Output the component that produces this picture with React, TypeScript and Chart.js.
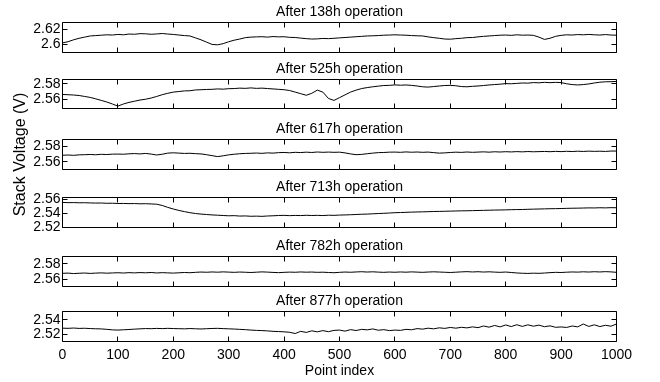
import React, { useEffect, useRef } from 'react';
import { Chart, registerables } from 'chart.js';
Chart.register(...registerables);

// x categories: point index (every 10th point)
const pointIndex: number[] = Array.from({ length: 101 }, (_, i) => i * 10);
const xTicks: number[] = [0, 100, 200, 300, 400, 500, 600, 700, 800, 900, 1000];

const titles: string[] = [
  'After 138h operation',
  'After 525h operation',
  'After 617h operation',
  'After 713h operation',
  'After 782h operation',
  'After 877h operation',
];

const v138: number[] = [
  2.602, 2.6035, 2.606, 2.608, 2.6095, 2.611, 2.6115, 2.612, 2.6125, 2.6122,
  2.613, 2.6125, 2.6135, 2.6132, 2.614, 2.6138, 2.6132, 2.6136, 2.6142, 2.6135,
  2.613, 2.6122, 2.6115, 2.611, 2.6085, 2.606, 2.603, 2.6, 2.5995, 2.601,
  2.6035, 2.6055, 2.607, 2.6088, 2.6095, 2.6098, 2.61, 2.6095, 2.6102, 2.6098,
  2.61, 2.6092, 2.609, 2.6082, 2.6075, 2.607, 2.6072, 2.6078, 2.6075, 2.608,
  2.6085, 2.609, 2.6095, 2.61, 2.6105, 2.611, 2.6112, 2.6115, 2.612, 2.6122,
  2.6125, 2.6122, 2.612, 2.6115, 2.6112, 2.611, 2.6098, 2.6088, 2.608, 2.607,
  2.6068, 2.6075, 2.608, 2.6088, 2.609, 2.6098, 2.6105, 2.611, 2.6115, 2.612,
  2.6122, 2.6118, 2.6125, 2.612, 2.6122, 2.6118, 2.6095, 2.6065, 2.608, 2.6105,
  2.6118, 2.6125, 2.6122, 2.6128, 2.6125, 2.613, 2.6125, 2.6122, 2.6128, 2.6122,
  2.612,
];

const v525: number[] = [
  2.5665, 2.5662, 2.5658, 2.5652, 2.564, 2.5628, 2.561, 2.559, 2.557, 2.5545,
  2.5518, 2.5545, 2.5565, 2.558, 2.5595, 2.5605, 2.562, 2.564, 2.5662, 2.568,
  2.5695, 2.5702, 2.571, 2.5712, 2.5722, 2.5725, 2.5728, 2.573, 2.5735, 2.5732,
  2.5738, 2.574, 2.5745, 2.5742, 2.5748, 2.5742, 2.5745, 2.574, 2.5735, 2.573,
  2.5725, 2.5715, 2.5695, 2.5675, 2.5655, 2.568, 2.572, 2.5695, 2.5615, 2.559,
  2.5625, 2.566, 2.5695, 2.572, 2.574, 2.5752, 2.5762, 2.577, 2.5778, 2.578,
  2.5786, 2.5782, 2.5785, 2.578, 2.5772, 2.5762, 2.5758, 2.5765, 2.5772, 2.5778,
  2.578, 2.5775, 2.5765, 2.5762, 2.5768, 2.5772, 2.5778, 2.5785, 2.579, 2.5795,
  2.5802, 2.58, 2.5805, 2.581, 2.5808, 2.5815, 2.5812, 2.5818, 2.5814, 2.5818,
  2.5815, 2.58, 2.579, 2.5785, 2.579, 2.5798, 2.581, 2.582, 2.5825, 2.5826,
  2.583,
];

const v617: number[] = [
  2.5685, 2.5688, 2.5684, 2.569, 2.5692, 2.5695, 2.5691, 2.5697, 2.5694, 2.5699,
  2.57, 2.5698, 2.5703, 2.5706, 2.5702, 2.5708, 2.57, 2.5688, 2.5698, 2.5712,
  2.5716, 2.5712, 2.5708, 2.571, 2.5705, 2.5702, 2.5692, 2.568, 2.5668, 2.5678,
  2.569, 2.5698, 2.5704, 2.5708, 2.571, 2.5713, 2.5709, 2.5715, 2.5712, 2.5718,
  2.572, 2.5716, 2.5722, 2.5719, 2.5724, 2.572, 2.5726, 2.5722, 2.5725, 2.5722,
  2.5724, 2.5715, 2.5702, 2.5692, 2.5696, 2.5704, 2.5712, 2.5718, 2.572, 2.5724,
  2.5725, 2.5722, 2.5727, 2.5723, 2.5726, 2.5722, 2.5725, 2.5718, 2.5712, 2.5715,
  2.572, 2.5724, 2.5721, 2.5726, 2.5722, 2.5725, 2.5728, 2.5724, 2.5729, 2.5726,
  2.573, 2.5727, 2.5731, 2.5728, 2.5732, 2.5729, 2.5731, 2.5733, 2.573, 2.5734,
  2.5731, 2.5735, 2.5732, 2.5736, 2.5733, 2.5737, 2.5734, 2.5736, 2.5733, 2.5738,
  2.5738,
];

const v713: number[] = [
  2.5555, 2.5552, 2.5553, 2.555, 2.5551, 2.5548, 2.5546, 2.5547, 2.5543, 2.5544,
  2.554, 2.5541, 2.5538, 2.5539, 2.5536, 2.5537, 2.5534, 2.553, 2.5512, 2.5485,
  2.5462, 2.5442, 2.5425, 2.541, 2.5398, 2.539, 2.5384, 2.5378, 2.5374, 2.537,
  2.5366, 2.5368, 2.5362, 2.5364, 2.5359, 2.5361, 2.5358, 2.5363, 2.5366, 2.537,
  2.5372, 2.5368, 2.5371, 2.5369, 2.5373, 2.537, 2.5372, 2.5369, 2.5374, 2.5372,
  2.5376, 2.5378, 2.5381, 2.5384, 2.5388, 2.539, 2.5394, 2.5398, 2.5401, 2.5405,
  2.541, 2.5412, 2.5415, 2.5418, 2.542, 2.5422, 2.5424, 2.5427, 2.5428, 2.543,
  2.5432, 2.5434, 2.5436, 2.5437, 2.5439, 2.5441, 2.5443, 2.5445, 2.5447, 2.5448,
  2.545, 2.5452, 2.5454, 2.5455, 2.5458, 2.546, 2.5462, 2.5464, 2.5466, 2.5467,
  2.5469, 2.5471, 2.5473, 2.5474, 2.5476, 2.5478, 2.5477, 2.548, 2.5478, 2.5481,
  2.548,
];

const v782: number[] = [
  2.5675, 2.5678, 2.5672, 2.5676, 2.5679, 2.5674, 2.5678, 2.5681, 2.5677, 2.568,
  2.5683, 2.5679, 2.5684, 2.5681, 2.5685, 2.5682, 2.5686, 2.568, 2.5684, 2.5681,
  2.5678, 2.5682, 2.5686, 2.5683, 2.5688, 2.5692, 2.5689, 2.5693, 2.569, 2.5694,
  2.5691, 2.5688, 2.5692, 2.5689, 2.5686, 2.569, 2.5694, 2.5691, 2.5687, 2.5684,
  2.5688, 2.5691, 2.5689, 2.5693, 2.569, 2.5692, 2.5688, 2.569, 2.5686, 2.5683,
  2.5688, 2.5692, 2.5689, 2.5693, 2.5696, 2.5692, 2.5695, 2.5691, 2.5688, 2.5692,
  2.5689, 2.5693, 2.569, 2.5694, 2.5691, 2.5688, 2.5692, 2.5695, 2.5692, 2.5689,
  2.5686, 2.569, 2.5694, 2.5697, 2.5693, 2.5696, 2.5692, 2.5695, 2.5691, 2.5688,
  2.5692, 2.5686, 2.568, 2.5676, 2.5674, 2.5677, 2.5675, 2.5679, 2.5684, 2.5688,
  2.5686, 2.569, 2.5693, 2.5691, 2.5695, 2.5692, 2.5696, 2.5693, 2.5697, 2.5694,
  2.5688,
];

const v877: number[] = [
  2.5288, 2.5286, 2.529, 2.5285, 2.5287, 2.5283, 2.528, 2.5278, 2.5272, 2.5265,
  2.5262, 2.5266, 2.527, 2.5275, 2.5279, 2.5283, 2.5281, 2.5285, 2.5282, 2.5286,
  2.5283, 2.5281, 2.5279, 2.5283, 2.528, 2.5277, 2.5281, 2.5284, 2.5286, 2.5282,
  2.5279, 2.5276, 2.5272, 2.5268, 2.5262, 2.5258, 2.5255, 2.5251, 2.5245, 2.5242,
  2.5238, 2.5232, 2.5215, 2.5245, 2.523, 2.5252, 2.5238, 2.5255, 2.524, 2.5258,
  2.5262, 2.5248, 2.5268, 2.5256, 2.5272, 2.5265, 2.5278, 2.526, 2.5268, 2.5255,
  2.5262, 2.5258, 2.5272, 2.5266, 2.5282, 2.5275, 2.5288, 2.5279, 2.5293, 2.5285,
  2.5298, 2.5288, 2.53, 2.5292, 2.5306, 2.5295, 2.5318, 2.5302, 2.5325, 2.5306,
  2.5332, 2.531, 2.5335, 2.5312, 2.5334, 2.5315, 2.533, 2.5308, 2.532, 2.53,
  2.5305, 2.5298, 2.5318, 2.5306, 2.5345, 2.5312, 2.5334, 2.531, 2.5328, 2.5315,
  2.5345,
];

const series: number[][] = [v138, v525, v617, v713, v782, v877];

const yMins: number[] = [2.5895, 2.5488, 2.5505, 2.52, 2.5503, 2.5106];
const yMaxs: number[] = [2.6285, 2.5854, 2.5884, 2.5625, 2.5895, 2.5516];
const yTicks: number[][] = [
  [2.6, 2.62],
  [2.56, 2.58],
  [2.56, 2.58],
  [2.52, 2.54, 2.56],
  [2.56, 2.58],
  [2.52, 2.54],
];

const yAxisTitle = 'Stack Voltage (V)';
const xAxisTitle = 'Point index';

// layout (pixels)
const W = 660;
const H = 382;
const boxTops = [22.5, 79.5, 139.5, 197.5, 256.5, 311.5];
const boxBottoms = [52.5, 108.5, 169.5, 227.5, 286.5, 341.5];
const PLOT_LEFT = 62.5;
const PLOT_RIGHT = 616.5;
const TITLE_BLOCK = 22.5;
const FONT = "'Liberation Sans', Arial, Helvetica, sans-serif";
const INK = '#000';
const TICK_LEN = 5;

const boxPlugin = {
  id: 'matlabBox',
  afterDraw(chart: any) {
    const { ctx, chartArea } = chart;
    const xs = chart.scales.x;
    const ys = chart.scales.y;
    const yt: number[] = chart.options.plugins.matlabBox.yTicks;
    ctx.save();
    ctx.strokeStyle = INK;
    ctx.lineWidth = 1;
    ctx.beginPath();
    ctx.rect(chartArea.left, chartArea.top, chartArea.right - chartArea.left, chartArea.bottom - chartArea.top);
    ctx.stroke();
    ctx.beginPath();
    for (const v of xTicks) {
      const px = Math.round(xs.getPixelForValue(v) - 0.5) + 0.5;
      ctx.moveTo(px, chartArea.bottom);
      ctx.lineTo(px, chartArea.bottom - TICK_LEN);
      ctx.moveTo(px, chartArea.top);
      ctx.lineTo(px, chartArea.top + TICK_LEN);
    }
    for (const v of yt) {
      const py = Math.round(ys.getPixelForValue(v) - 0.5) + 0.5;
      ctx.moveTo(chartArea.left, py);
      ctx.lineTo(chartArea.left + TICK_LEN, py);
      ctx.moveTo(chartArea.right, py);
      ctx.lineTo(chartArea.right - TICK_LEN, py);
    }
    ctx.stroke();
    ctx.restore();
  },
};

function Panel({ idx }: { idx: number }) {
  const ref = useRef<HTMLCanvasElement | null>(null);
  useEffect(() => {
    if (!ref.current) return;
    const last = idx === series.length - 1;
    const showYTitle = idx === 2;
    const xAxisH = 40.5;
    const chart = new Chart(ref.current, {
      type: 'line',
      data: {
        labels: pointIndex,
        datasets: [
          {
            data: series[idx],
            borderColor: INK,
            borderWidth: 1,
            pointRadius: 0,
            tension: 0,
            fill: false,
          },
        ],
      },
      options: {
        responsive: false,
        animation: false,
        events: [],
        layout: {
          padding: {
            top: boxTops[idx] - TITLE_BLOCK,
            bottom: last ? H - boxBottoms[idx] - xAxisH : H - boxBottoms[idx],
            left: 0,
            right: W - PLOT_RIGHT,
          },
        },
        plugins: {
          legend: { display: false },
          tooltip: { enabled: false },
          title: {
            display: true,
            text: titles[idx],
            color: INK,
            fullSize: false,
            font: { family: FONT, size: 14, weight: 'normal', lineHeight: 1.2 },
            padding: { top: 4.1, bottom: 1.6 },
          },
          matlabBox: { yTicks: yTicks[idx] },
        } as any,
        scales: {
          x: {
            type: 'linear',
            min: 0,
            max: 1000,
            display: last,
            grid: { display: false, drawTicks: false },
            border: { display: false },
            afterBuildTicks: (s: any) => {
              s.ticks = xTicks.map((v) => ({ value: v }));
            },
            afterFit: (s: any) => {
              if (last) s.height = xAxisH;
            },
            ticks: {
              color: INK,
              font: { family: FONT, size: 14 },
              padding: 5,
              maxRotation: 0,
              autoSkip: false,
              callback: (v: any) => String(v),
            },
            title: {
              display: last,
              text: xAxisTitle,
              color: INK,
              font: { family: FONT, size: 14 },
              padding: { top: 0, bottom: 2.6 },
            },
          },
          y: {
            type: 'linear',
            min: yMins[idx],
            max: yMaxs[idx],
            grid: { display: false, drawTicks: false },
            border: { display: false },
            afterBuildTicks: (s: any) => {
              s.ticks = yTicks[idx].map((v) => ({ value: v }));
            },
            afterFit: (s: any) => {
              s.width = PLOT_LEFT;
            },
            ticks: {
              color: INK,
              font: { family: FONT, size: 14 },
              padding: 2,
              autoSkip: false,
              callback: (v: any) => String(Number(v)),
            },
            title: {
              display: showYTitle,
              text: yAxisTitle,
              color: INK,
              font: { family: FONT, size: 16 },
              padding: { top: 11, bottom: 0 },
            },
          },
        },
      },
      plugins: [boxPlugin],
    });
    return () => chart.destroy();
  }, [idx]);
  return (
    <canvas
      ref={ref}
      width={W}
      height={H}
      style={{ position: 'absolute', left: 0, top: 0, width: W, height: H }}
    />
  );
}

export default function App() {
  return (
    <div
      style={{
        position: 'fixed',
        left: 0,
        top: 0,
        width: W,
        height: H,
        background: '#fff',
        overflow: 'hidden',
      }}
    >
      {series.map((_, i) => (
        <Panel key={i} idx={i} />
      ))}
    </div>
  );
}
